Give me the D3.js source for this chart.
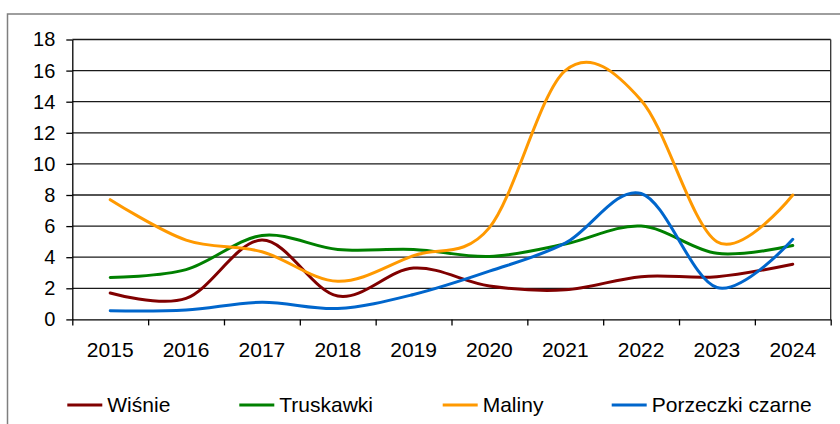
<!DOCTYPE html>
<html>
<head>
<meta charset="utf-8">
<script src="https://cdn.jsdelivr.net/npm/d3@7"></script>
<style>
  body { margin: 0; background: #fff; }
  svg { display: block; font-family: "Liberation Sans", Arial, sans-serif; }
</style>
</head>
<body>
<svg id="chart" width="840" height="424"></svg>
<script>
// values
var years = ["2015", "2016", "2017", "2018", "2019", "2020", "2021", "2022", "2023", "2024"];
var wisnie = [1.7, 1.35, 5.1, 1.5, 3.3, 2.15, 1.9, 2.75, 2.75, 3.55];
var truskawki = [2.7, 3.2, 5.4, 4.5, 4.5, 4.05, 4.85, 6.0, 4.25, 4.75];
var maliny = [7.7, 5.1, 4.35, 2.45, 4.1, 5.9, 16.0, 14.1, 5.0, 8.0];
var porzeczki = [0.55, 0.6, 1.1, 0.7, 1.6, 3.1, 4.9, 8.1, 2.05, 5.15];
var yTicks = [0, 2, 4, 6, 8, 10, 12, 14, 16, 18];

var series = [
  { name: "Wiśnie", values: wisnie, color: "#800000" },
  { name: "Truskawki", values: truskawki, color: "#008000" },
  { name: "Maliny", values: maliny, color: "#FF9900" },
  { name: "Porzeczki czarne", values: porzeczki, color: "#0066CC" }
];

function drawChart() {
  var svg = d3.select("#chart");
  var pLeft = 72.3, pRight = 830.7, pTop = 39.5, pBottom = 319.4;

  // outer chart frame (runs past the window edge)
  svg.append("rect")
    .attr("x", 7.5).attr("y", 14)
    .attr("width", 860).attr("height", 440)
    .attr("fill", "none")
    .attr("stroke", "#7f7f7f")
    .attr("stroke-width", 1.5);

  var x = d3.scalePoint().domain(years).range([pLeft, pRight]).padding(0.5);
  var xEdges = d3.scaleLinear().domain([0, years.length]).range([pLeft, pRight]);
  var y = d3.scaleLinear().domain([0, 18]).range([pBottom, pTop]);

  // gridlines
  svg.append("g").selectAll("line")
    .data(yTicks.filter(function(d){ return d > 0; }))
    .enter().append("line")
    .attr("x1", pLeft).attr("x2", pRight)
    .attr("y1", function(d){ return y(d); })
    .attr("y2", function(d){ return y(d); })
    .attr("stroke", "#1a1a1a")
    .attr("stroke-width", 1.3);

  // right border of plot area
  svg.append("line")
    .attr("x1", pRight).attr("x2", pRight)
    .attr("y1", pTop).attr("y2", pBottom)
    .attr("stroke", "#333")
    .attr("stroke-width", 1.3);

  // y axis
  var yAxis = svg.append("g")
    .attr("transform", "translate(" + pLeft + ",0)")
    .call(d3.axisLeft(y).tickValues(yTicks).tickSize(6).tickPadding(11).tickSizeOuter(0));
  yAxis.selectAll("text").attr("font-size", 20).attr("fill", "#000")
    .attr("font-family", "Liberation Sans, Arial, sans-serif");
  yAxis.selectAll("line, path").attr("stroke", "#000").attr("stroke-width", 1.3);

  // x axis: ticks on category edges
  var xAxis = svg.append("g")
    .attr("transform", "translate(0," + pBottom + ")")
    .call(d3.axisBottom(xEdges).ticks(years.length).tickSize(6).tickSizeOuter(0).tickFormat(""));
  xAxis.selectAll("line, path").attr("stroke", "#000").attr("stroke-width", 1.3);

  svg.append("g").selectAll("text")
    .data(years).enter().append("text")
    .attr("x", function(d){ return x(d); })
    .attr("y", 356.7)
    .attr("text-anchor", "middle")
    .attr("font-size", 21)
    .text(function(d){ return d; });

  // smoothed lines
  var line = d3.line()
    .x(function(d, i){ return x(years[i]); })
    .y(function(d){ return y(d); })
    .curve(d3.curveCatmullRom.alpha(0));

  svg.append("g").selectAll("path")
    .data(series).enter().append("path")
    .attr("d", function(d){ return line(d.values); })
    .attr("fill", "none")
    .attr("stroke", function(d){ return d.color; })
    .attr("stroke-width", 3)
    .attr("stroke-linecap", "round");

  // legend
  var legendX = [67.3, 239.3, 442.7, 611.7];
  var legend = svg.append("g").selectAll("g")
    .data(series).enter().append("g")
    .attr("transform", function(d, i){ return "translate(" + legendX[i] + ",0)"; });

  legend.append("line")
    .attr("x1", 0).attr("x2", 35)
    .attr("y1", 405).attr("y2", 405)
    .attr("stroke", function(d){ return d.color; })
    .attr("stroke-width", 3);

  legend.append("text")
    .attr("x", 40).attr("y", 412.3)
    .attr("font-size", 21)
    .text(function(d){ return d.name; });
}

drawChart();
</script>
</body>
</html>
